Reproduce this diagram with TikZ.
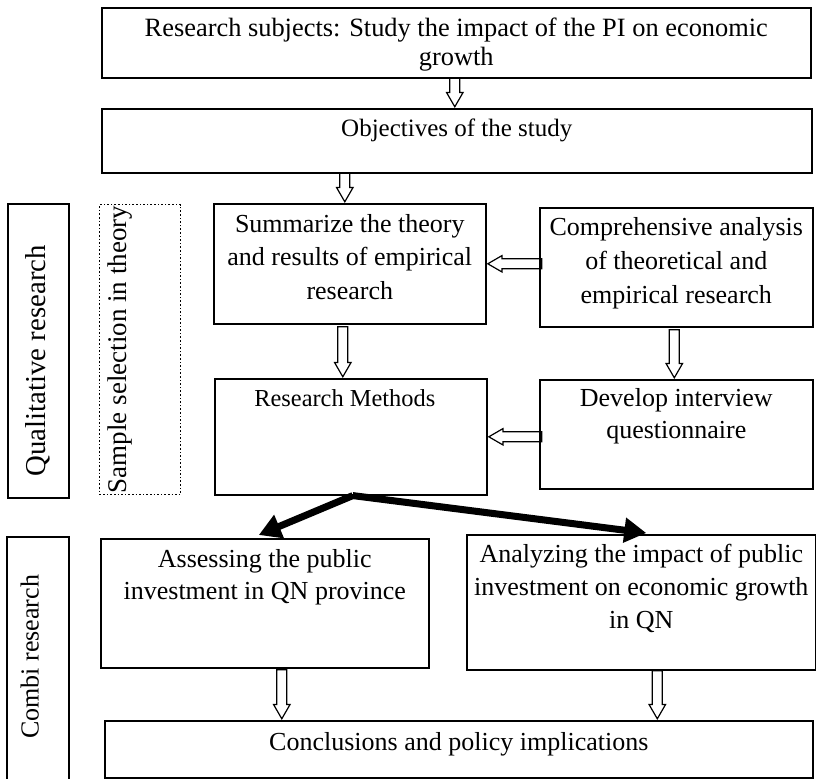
\documentclass[tikz,border=0pt]{standalone}
\usepackage{fontspec}
\setmainfont{Liberation Serif}
\usetikzlibrary{positioning}
\usetikzlibrary{shapes.arrows}
\usetikzlibrary{arrows.meta}

\tikzset{
  box/.style={draw, line width=0.8pt, anchor=north west, inner sep=0pt},
  txt/.style={align=center, inner sep=0pt, font=\fontsize{13}{16.5}\selectfont},
  side/.style={inner sep=0pt, rotate=90},
  hollow/.style={single arrow, draw, line width=0.6pt, inner sep=2.2pt,
    text height=0pt, text depth=0pt, minimum width=7.6pt,
    single arrow head extend=1.6pt, single arrow tip angle=60, anchor=tip},
  fat/.style={line width=3.5pt, -{Triangle[length=11pt,width=12pt]}}
}

\begin{document}
\begin{tikzpicture}[x=0.5pt,y=-0.5pt]
    \useasboundingbox (0,0) rectangle (816,779);
    % boxes
    \node[box, minimum width=354.5pt, minimum height=35pt] (subj) at (101,7) {};
    \node[box, minimum width=355pt, minimum height=32pt] (obj) at (101,108) {};
    \node[box, minimum width=136pt, minimum height=60pt] (summ) at (213,203) {};
    \node[box, minimum width=136.5pt, minimum height=59.5pt] (comp) at (539,207) {};
    \node[box, minimum width=136pt, minimum height=58pt] (meth) at (214,378) {};
    \node[box, minimum width=136.5pt, minimum height=54.5pt] (dev) at (539,379) {};
    \node[box, minimum width=30.5pt, minimum height=147pt] (qual) at (7,203) {};
    \node[box, densely dotted, line width=0.6pt, minimum width=40.5pt, minimum height=145pt] (sample) at (99,204) {};
    \node[box, minimum width=31pt, minimum height=124pt] (combi) at (6,536) {};
    \node[box, minimum width=164pt, minimum height=64.5pt] (ass) at (100,538) {};
    \node[box, minimum width=174.5pt, minimum height=67.5pt] (ana) at (466,534) {};
    \node[box, minimum width=354pt, minimum height=28.5pt] (conc) at (104,720) {};
    % texts
    \node[txt, font=\fontsize{13.2}{14.5}\selectfont] (subjt) at ([yshift=-1pt]subj.center)
      {Research subjects: Study the impact of the PI on economic\\growth};
    \node[txt, font=\fontsize{12.5}{15}\selectfont, below=5.5pt of obj.north] (objt) {Objectives of the study};
    \node[txt, font=\fontsize{13}{16.75}\selectfont, below=5.5pt of summ.north] (summt)
      {Summarize the theory\\and results of empirical\\research};
    \node[txt, font=\fontsize{13}{17}\selectfont, below=5pt of comp.north] (compt)
      {Comprehensive analysis\\of theoretical and\\empirical research};
    \node[txt, font=\fontsize{12.2}{15}\selectfont, below=5.5pt of meth.north, xshift=-3pt] (metht) {Research Methods};
    \node[txt, font=\fontsize{13}{16}\selectfont, below=4.5pt of dev.north] (devt)
      {Develop interview\\questionnaire};
    \node[txt, font=\fontsize{13}{16}\selectfont, below=5.5pt of ass.north] (asst)
      {Assessing the public\\investment in QN province};
    \node[txt, below=5pt of ana.north] (anat)
      {Analyzing the impact of public\\investment on economic growth\\in QN};
    \node[txt, below=6pt of conc.north] (conct) {Conclusions and policy implications};
    \node[side, font=\fontsize{14.4}{16}\selectfont] (qualt) at ([yshift=-5pt]qual.center) {Qualitative research};
    \node[side, anchor=north, font=\fontsize{13.5}{16}\selectfont] (samplet) at ([xshift=4pt]sample.west) {Sample selection in theory};
    \node[side, font=\fontsize{13}{16}\selectfont] (combit) at ([xshift=-4pt,yshift=2pt]combi.center) {Combi research};
    % hollow arrows
    \node[hollow, shape border rotate=270, minimum height=14.5pt] (a1) at ([xshift=-1pt]obj.north) {};
    \node[hollow, shape border rotate=270, minimum height=14.5pt] (a2) at ([xshift=-2.5pt]summ.north) {};
    \node[hollow, shape border rotate=270, minimum height=25pt] (a3) at ([xshift=-4pt]meth.north) {};
    \node[hollow, shape border rotate=270, minimum height=24pt] (a4) at ([xshift=-1pt]dev.north) {};
    \node[hollow, shape border rotate=180, minimum height=27pt] (a5) at (summ.east) {};
    \node[hollow, shape border rotate=180, minimum height=26.5pt] (a6) at (meth.east) {};
    \node[hollow, shape border rotate=270, minimum height=24.5pt] (a7) at ([xshift=8.5pt]ass.south |- conc.north) {};
    \node[hollow, shape border rotate=270, minimum height=24pt] (a8) at ([xshift=8pt]ana.south |- conc.north) {};
    % split arrows
    \draw[fat] ([xshift=1pt]meth.south) -- ([xshift=-3pt,yshift=1.5pt]ass.north);
    \draw[fat] ([xshift=1pt]meth.south) -- ([xshift=2.5pt,yshift=0.5pt]ana.north);
\end{tikzpicture}
\end{document}
